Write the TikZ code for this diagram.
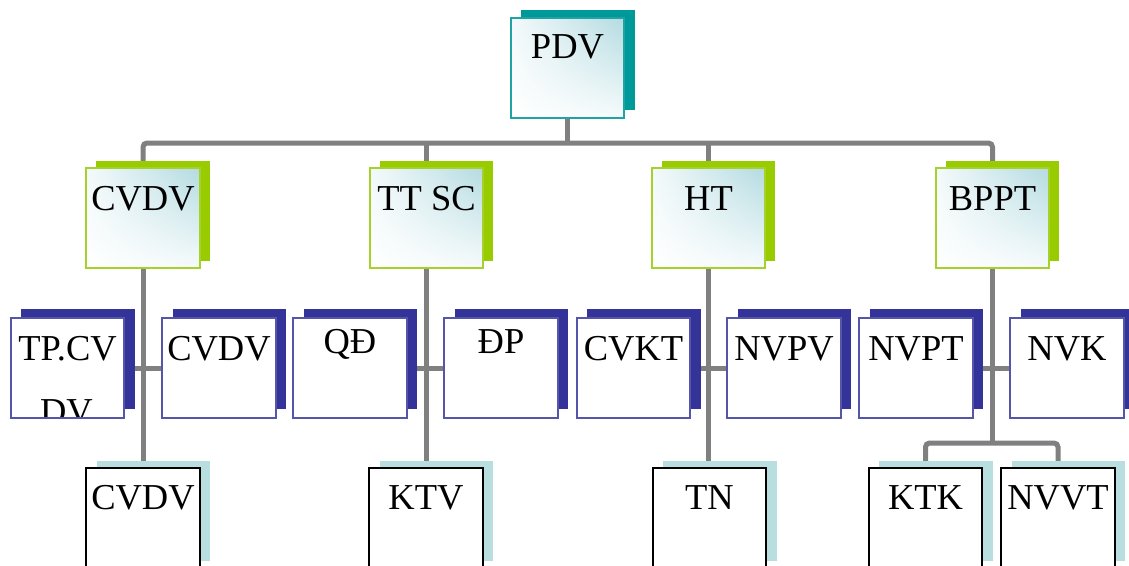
\documentclass[tikz,border=0pt]{standalone}
\usepackage{fontspec}
\setmainfont{Liberation Serif}
\usetikzlibrary{shadows,shadings,backgrounds}
\definecolor{conngray}{HTML}{808080}
\definecolor{tealS}{HTML}{009999}
\definecolor{tealB}{HTML}{1FA3A3}
\definecolor{greenS}{HTML}{99CC00}
\definecolor{greenB}{HTML}{A6D12B}
\definecolor{navyS}{HTML}{333399}
\definecolor{navyB}{HTML}{5555AA}
\definecolor{cyanS}{HTML}{B8DEE0}
\definecolor{gradB}{HTML}{B3DBE1}
\tikzset{
  box/.style={rectangle, inner sep=0pt, minimum width=113.5pt,
    font=\fontsize{36.5}{43.8}\selectfont, text height=42pt, text depth=58pt,
    line width=1.6pt},
  grad/.style={shade, shading=bilinear interpolation, upper right=gradB,
    upper left=gradB!15!white, lower left=white, lower right=gradB!12!white},
  lvlone/.style={box, grad, draw=tealB, text height=40pt, text depth=60pt,
    general shadow={fill=tealS, shadow xshift=10.5pt, shadow yshift=8pt}},
  lvltwo/.style={box, grad, draw=greenB,
    general shadow={fill=greenS, shadow xshift=10pt, shadow yshift=7.5pt}},
  lvlthree/.style={box, fill=white, draw=navyB,
    general shadow={fill=navyS, shadow xshift=10.5pt, shadow yshift=9.5pt}},
  lvlfour/.style={box, fill=white, draw=black, text height=41pt, text depth=59pt,
    general shadow={fill=cyanS, shadow xshift=10.5pt, shadow yshift=7.5pt}},
  conn/.style={draw=conngray, line width=5pt, rounded corners=4pt}
}
\begin{document}
\begin{tikzpicture}[x=1pt,y=-1pt]
\useasboundingbox (0,0) rectangle (1129,565);
% level 1
\node[lvlone] (pdv) at (567.5,68) {PDV};
% level 2
\node[lvltwo] (l2a) at (143,218) {CVDV};
\node[lvltwo] (l2b) at (426.5,218) {TT SC};
\node[lvltwo] (l2c) at (708.5,218) {HT};
\node[lvltwo] (l2d) at (992.5,218) {BPPT};
% level 3
\node[lvlthree, path picture={\node[anchor=base, inner sep=0pt,
    font=\fontsize{36.5}{43.8}\selectfont]
    at ([xshift=-1pt,yshift=-105pt]path picture bounding box.north) {DV};}]
  (l3a) at (67.5,368) {TP.CV};
\node[lvlthree] (l3b) at (219,368) {CVDV};
\node[lvlthree, text height=35pt, text depth=65pt] (l3c) at (350,368) {QĐ};
\node[lvlthree, text height=35pt, text depth=65pt] (l3d) at (501,368) {ĐP\hspace{12pt}};
\node[lvlthree] (l3e) at (633.5,368) {CVKT};
\node[lvlthree] (l3f) at (784,368) {NVPV};
\node[lvlthree] (l3g) at (916,368) {NVPT};
\node[lvlthree] (l3h) at (1067,368) {NVK};
% level 4
\node[lvlfour] (l4a) at (143,518) {CVDV};
\node[lvlfour] (l4b) at (426,518) {KTV};
\node[lvlfour] (l4c) at (709.5,518) {TN};
\node[lvlfour] (l4d) at (925.5,518) {KTK};
\node[lvlfour] (l4e) at (1058,518) {NVVT};
\coordinate (bus) at (567.5,143);
\coordinate (fork) at (992.5,443);
\begin{scope}[on background layer]
  \draw[conn] (pdv.south) -- (bus);
  \draw[conn] (l2a.north) |- (bus) -| (l2d.north);
  \draw[conn] (l2b.north) -- (l2b.north |- bus);
  \draw[conn] (l2c.north) -- (l2c.north |- bus);
  \draw[conn] (l2a.south) -- (l4a.north);
  \draw[conn] (l2b.south) -- (l2b.south |- l4b.north);
  \draw[conn] (l2c.south) -- (l2c.south |- l4c.north);
  \draw[conn] (l2d.south) -- (fork);
  \draw[conn] (l4d.north) |- (fork) -| (l4e.north);
  \draw[conn] (l3a.east) -- (l3b.west);
  \draw[conn] (l3c.east) -- (l3d.west);
  \draw[conn] (l3e.east) -- (l3f.west);
  \draw[conn] (l3g.east) -- (l3h.west);
\end{scope}
\end{tikzpicture}
\end{document}
